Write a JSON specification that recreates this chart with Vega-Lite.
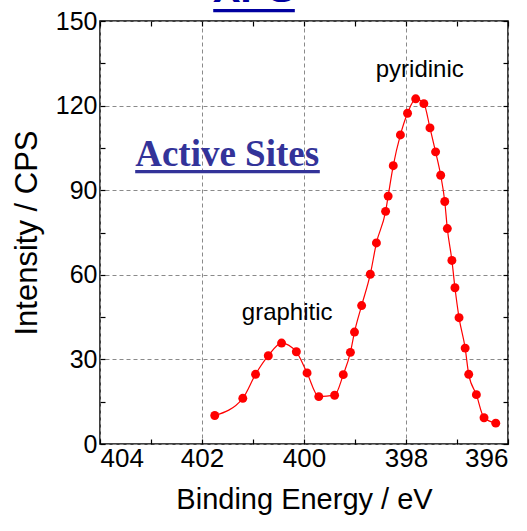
{
  "$schema": "https://vega.github.io/schema/vega-lite/v6.json",
  "autosize": "none",
  "width": 408,
  "height": 423,
  "padding": {"left": 100, "top": 21, "right": 19, "bottom": 87},
  "background": "white",
  "config": {
    "view": {"stroke": "black", "strokeWidth": 1.5},
    "font": "Liberation Sans"
  },
  "datasets": {
    "xps": [
      {"energy": 401.75, "intensity": 10.1},
      {"energy": 401.20, "intensity": 16.2},
      {"energy": 400.95, "intensity": 24.7},
      {"energy": 400.70, "intensity": 31.3},
      {"energy": 400.44, "intensity": 35.8},
      {"energy": 400.15, "intensity": 32.7},
      {"energy": 399.94, "intensity": 25.2},
      {"energy": 399.71, "intensity": 16.8},
      {"energy": 399.40, "intensity": 17.3},
      {"energy": 399.23, "intensity": 24.6},
      {"energy": 399.09, "intensity": 32.5},
      {"energy": 399.01, "intensity": 39.7},
      {"energy": 398.87, "intensity": 49.1},
      {"energy": 398.70, "intensity": 60.2},
      {"energy": 398.58, "intensity": 71.3},
      {"energy": 398.40, "intensity": 82.5},
      {"energy": 398.35, "intensity": 87.9},
      {"energy": 398.25, "intensity": 98.7},
      {"energy": 398.11, "intensity": 109.6},
      {"energy": 397.97, "intensity": 117.3},
      {"energy": 397.81, "intensity": 122.4},
      {"energy": 397.65, "intensity": 120.7},
      {"energy": 397.53, "intensity": 112.1},
      {"energy": 397.42, "intensity": 103.6},
      {"energy": 397.32, "intensity": 95.3},
      {"energy": 397.24, "intensity": 86.0},
      {"energy": 397.19, "intensity": 76.4},
      {"energy": 397.10, "intensity": 65.1},
      {"energy": 397.04, "intensity": 55.4},
      {"energy": 396.96, "intensity": 44.8},
      {"energy": 396.84, "intensity": 34.0},
      {"energy": 396.77, "intensity": 24.7},
      {"energy": 396.62, "intensity": 17.5},
      {"energy": 396.47, "intensity": 9.3},
      {"energy": 396.24, "intensity": 7.4}
    ]
  },
  "layer": [
    {
      "data": {"name": "xps"},
      "mark": {"type": "line", "color": "#ff0000", "strokeWidth": 1.2, "interpolate": "monotone"},
      "encoding": {
        "x": {
          "field": "energy", "type": "quantitative",
          "scale": {"domain": [396, 404], "reverse": true, "nice": false, "zero": false},
          "axis": {
            "orient": "bottom",
            "values": [396, 397, 398, 399, 400, 401, 402, 403, 404],
            "labelExpr": "datum.value % 2 === 0 ? datum.label : ''",
            "tickSize": -5, "tickColor": "black", "tickWidth": 1.2,
            "domain": false,
            "grid": true, "gridDash": [4, 3], "gridColor": "#8a8a8a", "gridWidth": 1,
            "gridOpacity": {"condition": {"test": "datum.value % 2 === 0", "value": 1}, "value": 0},
            "labelFontSize": 26, "labelColor": "black", "labelPadding": 6, "labelFont": "Liberation Sans",
            "title": "Binding Energy / eV", "titleFontSize": 29, "titleFontWeight": "normal",
            "titleColor": "black", "titleFont": "Liberation Sans", "titlePadding": 14
          }
        },
        "y": {
          "field": "intensity", "type": "quantitative",
          "scale": {"domain": [0, 150], "nice": false},
          "axis": {
            "orient": "left",
            "values": [0, 15, 30, 45, 60, 75, 90, 105, 120, 135, 150],
            "labelExpr": "datum.value % 30 === 0 ? datum.label : ''",
            "tickSize": -5, "tickColor": "black", "tickWidth": 1.2,
            "domain": false,
            "grid": true, "gridDash": [4, 3], "gridColor": "#8a8a8a", "gridWidth": 1,
            "gridOpacity": {"condition": {"test": "datum.value % 30 === 0", "value": 1}, "value": 0},
            "labelFontSize": 25, "labelColor": "black", "labelPadding": 8, "labelFont": "Liberation Sans",
            "title": "Intensity / CPS", "titleFontSize": 31, "titleFontWeight": "normal",
            "titleColor": "black", "titleFont": "Liberation Sans", "titlePadding": 12
          }
        }
      }
    },
    {
      "data": {"name": "xps"},
      "mark": {"type": "point", "filled": true, "color": "#ff0000", "size": 80, "opacity": 1},
      "encoding": {
        "x": {
          "field": "energy", "type": "quantitative",
          "axis": {
            "orient": "top",
            "values": [396, 397, 398, 399, 400, 401, 402, 403, 404],
            "labels": false, "domain": false, "grid": false, "title": null,
            "tickSize": -5, "tickColor": "black", "tickWidth": 1.2
          }
        },
        "y": {
          "field": "intensity", "type": "quantitative",
          "axis": {
            "orient": "right",
            "values": [0, 15, 30, 45, 60, 75, 90, 105, 120, 135, 150],
            "labels": false, "domain": false, "grid": false, "title": null,
            "tickSize": -5, "tickColor": "black", "tickWidth": 1.2
          }
        }
      }
    },
    {
      "data": {"values": [
        {"label": "pyridinic", "energy": 397.73, "intensity": 130.1},
        {"label": "graphitic", "energy": 400.33, "intensity": 44.0}
      ]},
      "mark": {"type": "text", "fontSize": 24, "font": "Liberation Sans", "color": "black", "align": "center", "baseline": "alphabetic"},
      "encoding": {
        "x": {"field": "energy", "type": "quantitative", "axis": null},
        "y": {"field": "intensity", "type": "quantitative", "axis": null},
        "text": {"field": "label"}
      }
    },
    {
      "data": {"values": [
        {"label": "Active Sites", "energy": 403.31, "intensity": 98.6}
      ]},
      "mark": {"type": "text", "fontSize": 37, "font": "Liberation Serif", "fontWeight": "bold", "color": "#333399", "align": "left", "baseline": "alphabetic"},
      "encoding": {
        "x": {"field": "energy", "type": "quantitative", "axis": null},
        "y": {"field": "intensity", "type": "quantitative", "axis": null},
        "text": {"field": "label"}
      }
    },
    {
      "data": {"values": [
        {"label": "XPS", "energy": 400.98, "intensity": 156.6}
      ]},
      "mark": {"type": "text", "fontSize": 41, "font": "Liberation Sans", "fontWeight": "bold", "color": "#0000a0", "align": "center", "baseline": "alphabetic"},
      "encoding": {
        "x": {"field": "energy", "type": "quantitative", "axis": null},
        "y": {"field": "intensity", "type": "quantitative", "axis": null},
        "text": {"field": "label"}
      }
    },
    {
      "data": {"values": [
        {"item": "Active Sites", "start": 403.31, "end": 399.69, "level": 96.6, "colour": "#333399"},
        {"item": "XPS", "start": 401.78, "end": 400.18, "level": 153.7, "colour": "#0000a0"}
      ]},
      "mark": {"type": "rule", "strokeWidth": 3.3},
      "encoding": {
        "x": {"field": "start", "type": "quantitative", "axis": null},
        "x2": {"field": "end"},
        "y": {"field": "level", "type": "quantitative", "axis": null},
        "color": {"field": "colour", "type": "nominal", "scale": null}
      }
    }
  ],
  "resolve": {"axis": {"x": "independent", "y": "independent"}}
}
